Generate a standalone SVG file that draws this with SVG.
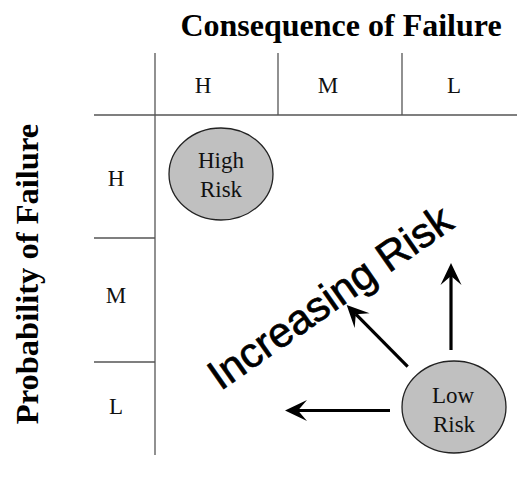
<svg xmlns="http://www.w3.org/2000/svg" width="517" height="481" viewBox="0 0 517 481">
<style>
.title{font-family:"Liberation Serif","Times New Roman",serif;font-weight:bold;fill:#000;text-anchor:middle}
.lbl{font-family:"Liberation Serif","Times New Roman",serif;font-size:23px;fill:#111;text-anchor:middle}
.grid{stroke:#555;stroke-width:1.3;fill:none}
.node{fill:#c0c0c0;stroke:#222;stroke-width:1.3}
.arr{stroke:#000;stroke-width:3.2;fill:none;marker-end:url(#ah)}
.big{font-family:"Liberation Sans",Arial,sans-serif;font-size:42px;fill:#000;stroke:#000;stroke-width:0.7;text-anchor:middle}
</style>
<defs>
<marker id="ah" markerUnits="userSpaceOnUse" viewBox="-10 -11 24 22" refX="0" refY="0" markerWidth="24" markerHeight="22" orient="auto">
<path d="M13,0 L-9,-10.5 L0,0 L-9,10.5 Z" fill="#000"/>
</marker>
</defs>
<rect width="517" height="481" fill="#fff"/>
<text class="title" x="341" y="36" font-size="32">Consequence of Failure</text>
<text class="title" transform="translate(38,274) rotate(-90)" font-size="32.5">Probability of Failure</text>
<g id="grid" class="grid">
<line x1="155" y1="53" x2="155" y2="455"/>
<line x1="94" y1="115" x2="517" y2="115"/>
<line x1="278" y1="53" x2="278" y2="115"/>
<line x1="402" y1="53" x2="402" y2="115"/>
<line x1="94" y1="238" x2="155" y2="238"/>
<line x1="94" y1="362" x2="155" y2="362"/>
</g>
<g id="labels">
<text class="lbl" x="203" y="93">H</text>
<text class="lbl" x="328" y="93">M</text>
<text class="lbl" x="454" y="93">L</text>
<text class="lbl" x="116" y="186">H</text>
<text class="lbl" x="116" y="303">M</text>
<text class="lbl" x="116" y="414">L</text>
</g>
<g id="high-risk">
<ellipse class="node" cx="221" cy="174" rx="52" ry="46"/>
<text class="lbl" x="221" y="168">High</text>
<text class="lbl" x="221" y="197">Risk</text>
</g>
<g id="low-risk">
<ellipse class="node" cx="454" cy="407" rx="52" ry="46"/>
<text class="lbl" x="453" y="403">Low</text>
<text class="lbl" x="454" y="432">Risk</text>
</g>
<text class="big" transform="translate(338,309) rotate(-35)">Increasing Risk</text>
<g id="connectors">
<line class="arr" x1="451" y1="350" x2="451" y2="276"/>
<line class="arr" x1="407.7" y1="366.7" x2="355.8" y2="314.2"/>
<line class="arr" x1="390" y1="410.5" x2="298" y2="410.5"/>
</g>
</svg>
